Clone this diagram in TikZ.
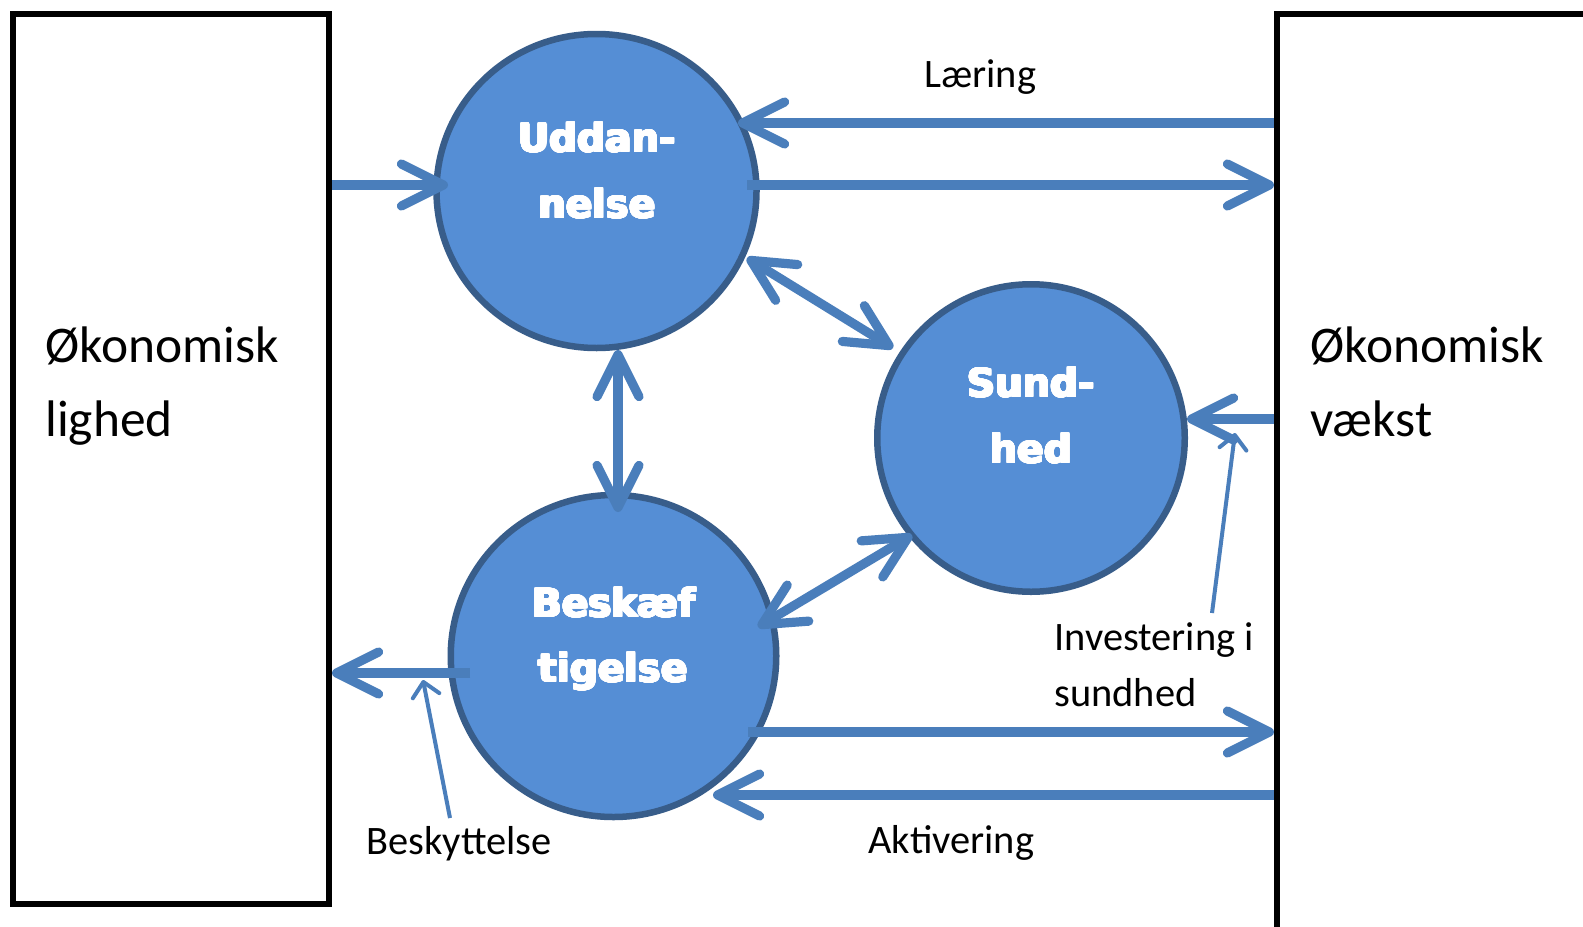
\documentclass[tikz,border=0pt]{standalone}
\usepackage{fontspec}
\usepackage{contour}
\setmainfont{Carlito}
\newfontfamily\bubblefont{DejaVu Sans}
\usetikzlibrary{arrows.meta,shapes.geometric,calc}

\definecolor{bubblefill}{RGB}{85,142,213}
\definecolor{bubbleline}{RGB}{56,93,138}
\definecolor{flowblue}{RGB}{74,126,187}

% heavy white lettering inside the bubbles
\contournumber{24}
\contourlength{0.45pt}
\newcommand{\heavy}[1]{\contour{white}{#1}}

\begin{document}
\begin{tikzpicture}[x=0.5pt,y=-0.5pt,
  box/.style={draw=black, line width=3pt, rectangle, inner sep=0pt, anchor=north west},
  bubble/.style={ellipse, draw=bubbleline, fill=bubblefill, line width=3.25pt, inner sep=0pt},
  bubbletext/.style={text=white, font=\bubblefont\bfseries\fontsize{19.5}{23}\selectfont, anchor=base, inner sep=0pt},
  flowlabel/.style={font=\fontsize{20.2}{24}\selectfont, anchor=base west, inner sep=0pt},
  sidelabel/.style={font=\fontsize{25.7}{30}\selectfont, anchor=base west, inner sep=0pt},
  barb/.tip={Straight Barb[length=21pt,width=21pt,round]},
  flow/.style={draw=flowblue, line width=4.6pt, -barb},
  twoway/.style={draw=flowblue, line width=4.6pt, barb-barb},
  hint/.style={draw=flowblue, line width=2pt, -{Straight Barb[length=7pt,width=13.5pt,round]}},
]
% canvas
\fill[white] (0,0) rectangle (1583,926);
\useasboundingbox (0,0) rectangle (1583,926);
\clip (0,0) rectangle (1583,926);

% the two side boxes
\node[box, minimum width=158pt, minimum height=445pt] (LB) at (10,11) {};
\node[box, minimum width=220pt, minimum height=500pt] (RB) at (1274,11) {};

\node[sidelabel] (ol1) at (45,362) {Økonomisk};
\node[sidelabel] (ol2) at (45,436) {lighed};
\node[sidelabel] (ov1) at (1310,362) {Økonomisk};
\node[sidelabel] (ov2) at (1310,436) {vækst};

% the three bubbles
\node[bubble, minimum width=160pt, minimum height=157pt] (U) at (596.5,191) {};
\node[bubble, minimum width=153.75pt, minimum height=153.75pt] (S) at (1031,438) {};
\node[bubble, minimum width=162.75pt, minimum height=161pt] (B) at (613.5,656) {};

\node[bubbletext] (Ut1) at (597,152) {\heavy{Uddan-}};
\node[bubbletext] (Ut2) at (597,218) {\heavy{nelse}};
\node[bubbletext] (St1) at (1031,397) {\heavy{Sund-}};
\node[bubbletext] (St2) at (1031,463) {\heavy{hed}};
\node[bubbletext] (Bt1) at (614,617) {\heavy{Beskæf}};
\node[bubbletext] (Bt2) at (613,682) {\heavy{tigelse}};

% connector end points on the bubbles
\coordinate (u-in)    at ($(U.center)+(-148.5,-6)$);
\coordinate (u-learn) at ($(U.center)+(141.5,-68)$);
\coordinate (u-out)   at ($(U.center)+(150.5,-6)$);
\coordinate (us-a)    at ($(U.center)+(150.5,67)$);
\coordinate (us-b)    at ($(S.center)+(-138,-90)$);
\coordinate (ub-a)    at ($(U.center)+(21.5,159)$);
\coordinate (ub-b)    at ($(B.center)+(4.5,-144)$);
\coordinate (bs-a)    at ($(B.center)+(144.5,-29)$);
\coordinate (bs-b)    at ($(S.center)+(-119,97)$);
\coordinate (s-in)    at ($(S.center)+(156,-19)$);
\coordinate (b-out)   at ($(B.center)+(-143.5,17)$);
\coordinate (b-job)   at ($(B.center)+(134.5,76)$);
\coordinate (b-act)   at ($(B.center)+(99.5,139)$);

% flows
\draw[flow] (LB.east |- u-in) -- (u-in);
\draw[flow] (RB.west |- u-learn) -- (u-learn);
\draw[flow] (u-out) -- (RB.west |- u-out);
\draw[twoway] (us-a) -- (us-b);
\draw[twoway] (ub-a) -- (ub-b);
\draw[twoway] (bs-a) -- (bs-b);
\draw[flow] (RB.west |- s-in) -- (s-in);
\draw[flow] (b-out) -- (LB.east |- b-out);
\draw[flow] (b-job) -- (RB.west |- b-job);
\draw[flow] (RB.west |- b-act) -- (b-act);

% flow labels
\node[flowlabel] (learn) at (924,87) {Læring};
\node[flowlabel] (inv1) at (1054,650) {Investering i};
\node[flowlabel] (inv2) at (1054,706) {sundhed};
\node[flowlabel] (prot) at (366,854) {Beskyttelse};
\node[flowlabel] (act) at (868,853) {Aktivering};

% pointers from labels to their flows
\coordinate (inv-tail)  at (1212,613);
\coordinate (inv-tip)   at (1235,433);
\coordinate (prot-tail) at (450,818);
\coordinate (prot-tip)  at (423,680);
\draw[hint] (inv-tail) -- (inv-tip);
\draw[hint] (prot-tail) -- (prot-tip);
\end{tikzpicture}
\end{document}
